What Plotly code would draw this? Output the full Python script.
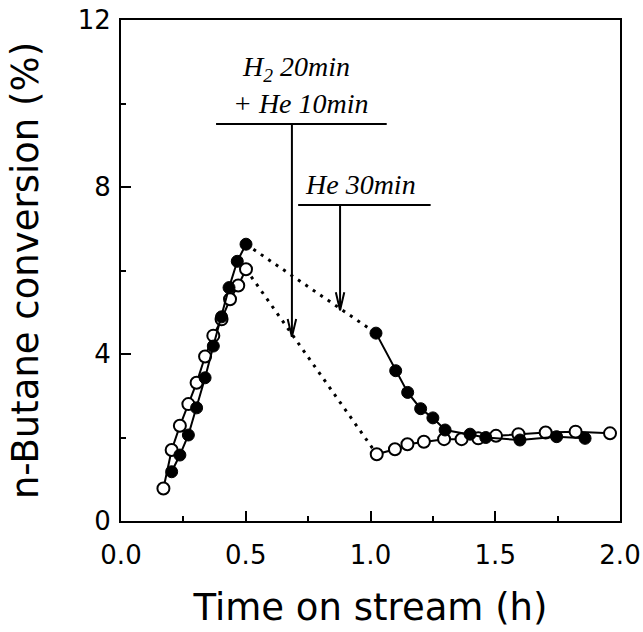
import plotly.graph_objects as go

# ---- data ----
# filled circles
filled_t1 = [0.203, 0.236, 0.270, 0.303, 0.337, 0.370, 0.403, 0.433, 0.466, 0.501]
filled_y1 = [1.18, 1.58, 2.06, 2.71, 3.43, 4.19, 4.89, 5.59, 6.22, 6.63]
filled_t2 = [1.022, 1.101, 1.149, 1.201, 1.250, 1.299, 1.399, 1.462, 1.599, 1.746, 1.860]
filled_y2 = [4.50, 3.60, 3.08, 2.69, 2.47, 2.18, 2.08, 2.00, 1.94, 2.02, 1.98]
# open circles
open_t1 = [0.170, 0.203, 0.236, 0.270, 0.303, 0.337, 0.370, 0.403, 0.437, 0.470, 0.501]
open_y1 = [0.78, 1.70, 2.28, 2.80, 3.31, 3.94, 4.44, 4.83, 5.31, 5.64, 6.03]
open_t2 = [1.025, 1.098, 1.148, 1.214, 1.295, 1.365, 1.432, 1.503, 1.593, 1.702, 1.822, 1.960]
open_y2 = [1.60, 1.72, 1.84, 1.90, 1.96, 1.96, 1.98, 2.04, 2.08, 2.12, 2.14, 2.10]

x_ticks = [0.0, 0.5, 1.0, 1.5, 2.0]
y_ticks = [0, 4, 8, 12]

# annotation anchors (data units)
arrow1 = dict(x=0.685, y_top=9.51, y_tip=4.41, x0=0.381, x1=1.065)
arrow2 = dict(x=0.878, y_top=7.57, y_tip=5.05, x0=0.71, x1=1.241)

fig = go.Figure()

line_solid = dict(color="black", width=2)
line_dot = dict(color="black", width=3, dash="3px,6px")

# dotted connections
fig.add_trace(go.Scatter(x=[open_t1[-1], open_t2[0]], y=[open_y1[-1], open_y2[0]],
                         mode="lines", line=line_dot, showlegend=False, hoverinfo="skip"))
fig.add_trace(go.Scatter(x=[filled_t1[-1], filled_t2[0]], y=[filled_y1[-1], filled_y2[0]],
                         mode="lines", line=line_dot, showlegend=False, hoverinfo="skip"))

open_marker = dict(symbol="circle", size=12, color="white", line=dict(color="black", width=2))
filled_marker = dict(symbol="circle", size=12, color="black", line=dict(color="black", width=1))

for t, y in [(open_t1, open_y1), (open_t2, open_y2)]:
    fig.add_trace(go.Scatter(x=t, y=y, mode="lines+markers", line=line_solid,
                             marker=open_marker, showlegend=False))
for t, y in [(filled_t1, filled_y1), (filled_t2, filled_y2)]:
    fig.add_trace(go.Scatter(x=t, y=y, mode="lines+markers", line=line_solid,
                             marker=filled_marker, showlegend=False))

# arrows (horizontal bar, vertical line, V head)
dx, dy = 0.017, 0.43
for a in (arrow1, arrow2):
    fig.add_shape(type="line", x0=a["x0"], x1=a["x1"], y0=a["y_top"], y1=a["y_top"],
                  xref="x", yref="y", line=dict(color="black", width=2))
    fig.add_shape(type="line", x0=a["x"], x1=a["x"], y0=a["y_top"], y1=a["y_tip"],
                  xref="x", yref="y", line=dict(color="black", width=2))
    fig.add_shape(type="path", xref="x", yref="y",
                  path=f"M {a['x']-dx},{a['y_tip']+dy} L {a['x']},{a['y_tip']} L {a['x']+dx},{a['y_tip']+dy}",
                  line=dict(color="black", width=2))

ann_font = dict(family="Liberation Serif, Times New Roman, serif", size=28, color="black")
fig.add_annotation(x=0.70, y=10.85, xref="x", yref="y", text="<i>H<sub>2</sub> 20min</i>",
                   showarrow=False, font=ann_font)
fig.add_annotation(x=0.72, y=10.01, xref="x", yref="y", text="<i>+ He 10min</i>",
                   showarrow=False, font=ann_font)
fig.add_annotation(x=0.96, y=8.05, xref="x", yref="y", text="<i>He 30min</i>",
                   showarrow=False, font=ann_font)

tick_font = dict(family="DejaVu Sans, sans-serif", size=26, color="black")
title_font = dict(family="DejaVu Sans, sans-serif", size=37, color="black")

fig.update_layout(
    width=643, height=632,
    margin=dict(l=121, r=23, t=20, b=111),
    paper_bgcolor="white", plot_bgcolor="white",
    xaxis=dict(range=[0, 2], tickvals=x_ticks, ticktext=[f"{v:.1f}" for v in x_ticks],
               ticks="inside", ticklen=10, tickwidth=2, tickcolor="black",
               minor=dict(dtick=0.25, ticks="inside", ticklen=5, tickwidth=2, tickcolor="black"),
               showline=True, linewidth=2, linecolor="black", mirror=True, automargin=False,
               showgrid=False, zeroline=False, tickfont=tick_font, ticklabelstandoff=10,
               title=dict(text="Time on stream (h)", font=title_font, standoff=25)),
    yaxis=dict(range=[0, 12], tickvals=y_ticks, ticktext=[str(v) for v in y_ticks],
               ticks="inside", ticklen=10, tickwidth=2, tickcolor="black",
               minor=dict(dtick=2, ticks="inside", ticklen=5, tickwidth=2, tickcolor="black"),
               showline=True, linewidth=2, linecolor="black", mirror=True, automargin=False,
               showgrid=False, zeroline=False, tickfont=tick_font, ticklabelstandoff=3,
               title=dict(text="n-Butane conversion (%)", font=title_font, standoff=28)),
)

fig.write_html("out.html", config={"displayModeBar": False},
               post_script="document.body.style.margin='0';")
